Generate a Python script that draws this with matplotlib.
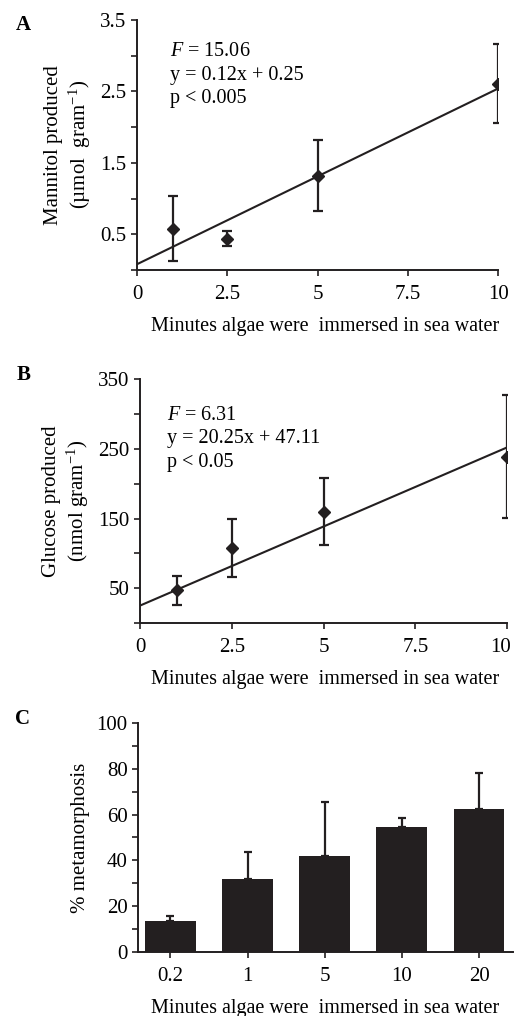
import matplotlib
matplotlib.use("Agg")
import matplotlib.pyplot as plt
import matplotlib.transforms as mtransforms
from matplotlib.ticker import MultipleLocator

plt.rcParams['font.family'] = ['Liberation Serif', 'DejaVu Serif']
plt.rcParams['mathtext.fontset'] = 'custom'
plt.rcParams['mathtext.rm'] = 'Liberation Serif'
plt.rcParams['mathtext.it'] = 'Liberation Serif:italic'

# panel A: mannitol
a_x = [1, 2.5, 5, 10]
a_y = [0.58, 0.44, 1.32, 2.61]
a_err = [0.46, 0.10, 0.50, 0.55]
a_fit_x = [0, 10]
a_fit_y = [0.08, 2.54]

# panel B: glucose
b_x = [1, 2.5, 5, 10]
b_y = [47, 108, 160, 239]
b_err = [21, 42, 48, 88]
b_fit_x = [0, 10]
b_fit_y = [25, 252]

# panel C: metamorphosis
c_labels = ['0.2', '1', '5', '10', '20']
c_vals = [13.7, 31.9, 41.8, 54.5, 62.6]
c_err = [2.0, 11.7, 23.6, 4.2, 15.6]

fs = 15
xlab = 'Minutes algae were  immersed in sea water'
ink = '#231f20'

fig = plt.figure(figsize=(5.14, 10.16), dpi=100)


def style(ax):
    for s in ['top', 'right']:
        ax.spines[s].set_visible(False)
    for s in ['left', 'bottom']:
        ax.spines[s].set_linewidth(1.4)
        ax.spines[s].set_color(ink)
    ax.tick_params(which='both', direction='out', width=1.2, colors=ink,
                   labelsize=fs, labelcolor='black')
    ax.tick_params(which='major', length=4)
    ax.tick_params(which='minor', length=4)


def scatter_panel(ax, x, y, err, fx, fy):
    ax.plot(fx, fy, color=ink, lw=1.5, zorder=2)
    ax.errorbar(x, y, yerr=err, fmt='D', color=ink, ms=6.5, elinewidth=1.6,
                capsize=3.5, capthick=1.6, zorder=3)
    ax.set_xlim(0, 10)
    ax.set_xticks([0, 2.5, 5, 7.5, 10])
    ax.set_xticklabels(['0', '2.5', '5', '7.5', '10'])
    ax.tick_params(axis='x', pad=7)


def put_xlabel(ax):
    ax.set_xlabel(xlab, fontsize=14.5, labelpad=9)
    # all x labels are centred near x = 325 px in the original
    x0, x1 = ax.get_position().x0, ax.get_position().x1
    ax.xaxis.set_label_coords((325 / 514 - x0) / (x1 - x0), ax.xaxis.label.get_position()[1])
    ax.xaxis.label.set_transform(mtransforms.blended_transform_factory(ax.transAxes, mtransforms.IdentityTransform()))


# A
axA = fig.add_axes([0.2665, 0.7343, 0.7025, 0.246])
style(axA)
scatter_panel(axA, a_x, a_y, a_err, a_fit_x, a_fit_y)
axA.set_ylim(0, 3.5)
axA.set_yticks([0.5, 1.5, 2.5, 3.5])
axA.yaxis.set_minor_locator(MultipleLocator(0.5))
axA.set_ylabel('Mannitol produced\n(µmol  gram$^{\\mathregular{-1}}$)', fontsize=fs, labelpad=5)
axA.set_xlabel(xlab, fontsize=14.5, labelpad=9, x=(325 / 514 - 0.2665) / 0.7025)
axA.text(0.091, 0.912, '$\\mathit{F}$ = 15.06\ny = 0.12x + 0.25\np < 0.005',
         transform=axA.transAxes, fontsize=14.5, va='top', ha='left', linespacing=1.33)
fig.text(0.03, 0.985, 'A', fontsize=fs, fontweight='bold', va='top')

# B
axB = fig.add_axes([0.2724, 0.3868, 0.7140, 0.240])
style(axB)
scatter_panel(axB, b_x, b_y, b_err, b_fit_x, b_fit_y)
axB.set_ylim(0, 350)
axB.set_yticks([50, 150, 250, 350])
axB.yaxis.set_minor_locator(MultipleLocator(50))
axB.set_ylabel('Glucose produced\n(nmol gram$^{\\mathregular{-1}}$)', fontsize=fs, labelpad=5)
axB.set_xlabel(xlab, fontsize=14.5, labelpad=9, x=(325 / 514 - 0.2724) / 0.7140)
axB.text(0.073, 0.892, '$\\mathit{F}$ = 6.31\ny = 20.25x + 47.11\np < 0.05',
         transform=axB.transAxes, fontsize=14.5, va='top', ha='left', linespacing=1.33)
fig.text(0.032, 0.641, 'B', fontsize=fs, fontweight='bold', va='top')
# last tick label sits a little left of its tick, as in the original
last = axB.get_xticklabels()[-1]
last.set_transform(last.get_transform() + mtransforms.ScaledTranslation(-6 / 100, 0, fig.dpi_scale_trans))

# C
axC = fig.add_axes([0.2685, 0.063, 0.7295, 0.2254])
style(axC)
pos = list(range(len(c_labels)))
axC.bar(pos, c_vals, width=0.66, color=ink, zorder=2)
axC.errorbar(pos, c_vals, yerr=[[0] * len(c_err), c_err], fmt='none', ecolor=ink,
             elinewidth=1.6, capsize=3, capthick=1.6, zorder=1)
axC.set_xlim(-0.42, 4.44)
axC.set_xticks(pos)
axC.set_xticklabels(c_labels)
axC.tick_params(axis='x', pad=7)
axC.set_ylim(0, 100)
axC.set_yticks([0, 20, 40, 60, 80, 100])
axC.yaxis.set_minor_locator(MultipleLocator(10))
axC.set_ylabel('% metamorphosis', fontsize=fs, labelpad=5)
axC.set_xlabel(xlab, fontsize=14.5, labelpad=9, x=(325 / 514 - 0.2685) / 0.7295)
fig.text(0.03, 0.302, 'C', fontsize=fs, fontweight='bold', va='top')

fig.savefig('out.png', dpi=100)
